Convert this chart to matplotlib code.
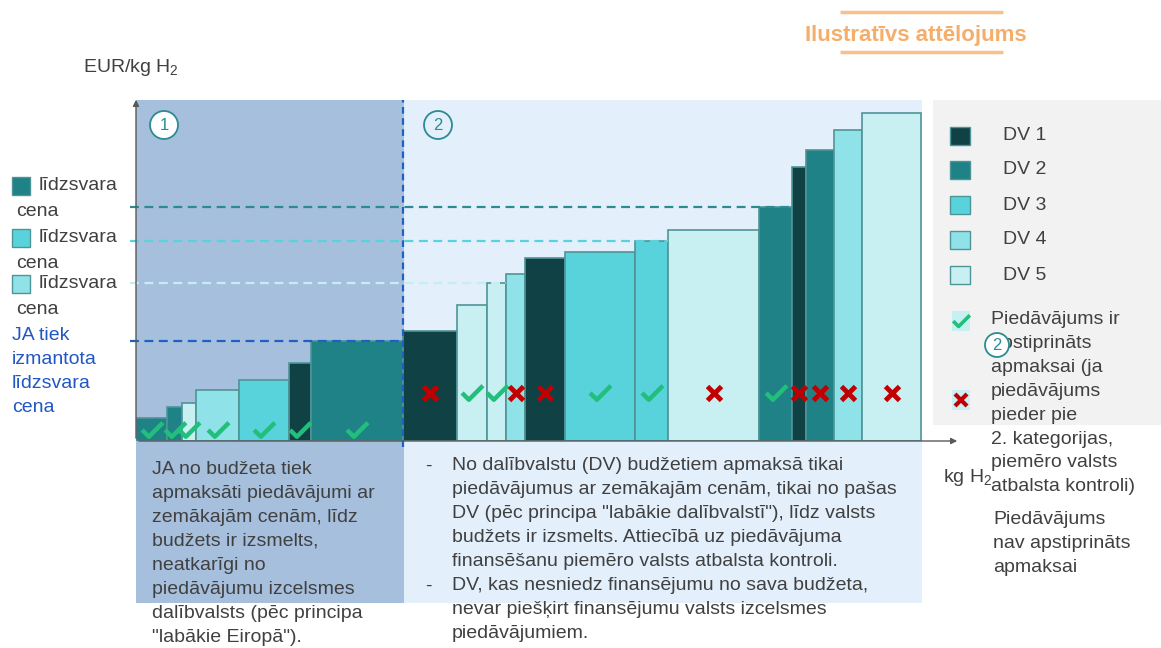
import matplotlib
matplotlib.use("Agg")
import matplotlib.pyplot as plt
from matplotlib.patches import Rectangle, Circle
from matplotlib.path import Path
import numpy as np

plt.rcParams['font.family'] = ['Liberation Sans', 'DejaVu Sans']
plt.rcParams['mathtext.fontset'] = 'custom'
plt.rcParams['mathtext.rm'] = 'Liberation Sans'
plt.rcParams['mathtext.default'] = 'regular'

# offers, sorted by price (illustrative units)
widths = [3.1, 1.5, 1.4, 4.3, 5.0, 2.2, 9.2, 5.4, 3.0, 1.9, 1.9, 4.0, 7.0, 3.3, 9.1, 3.3, 1.4, 2.8, 2.8, 5.9]
prices = [2.3, 3.4, 3.8, 5.1, 6.1, 7.8, 10.0, 11.0, 13.6, 15.8, 16.7, 18.3, 18.9, 20.0, 21.1, 23.4, 27.4, 29.1, 31.1, 32.8]
member = [2, 2, 5, 4, 3, 1, 2, 1, 5, 5, 4, 1, 3, 3, 5, 2, 1, 2, 4, 5]
approved = [1, 1, 1, 1, 1, 1, 1, 0, 1, 1, 0, 0, 1, 1, 0, 1, 0, 0, 0, 0]
phase = [1, 1, 1, 1, 1, 1, 1, 2, 2, 2, 2, 2, 2, 2, 2, 2, 2, 2, 2, 2]
# bar that sets each clearing price: DV2, DV3, DV4, JA
clearing_bar = [15, 13, 9, 6]

dv_labels = ['DV 1', 'DV 2', 'DV 3', 'DV 4', 'DV 5']
dv_colors = ['#0f4145', '#1e8286', '#59d3db', '#8fe2e8', '#c8eff1']
line_colors = ['#2a8c90', '#59d3db', '#c4eef1', '#2060c0']
edge = '#4f9497'
txt = '#404040'
green = '#22bf7c'
red = '#c00000'

left_text = ['JA no budžeta tiek', 'apmaksāti piedāvājumi ar', 'zemākajām cenām, līdz',
             'budžets ir izsmelts,', 'neatkarīgi no', 'piedāvājumu izcelsmes',
             'dalībvalsts (pēc principa', '"labākie Eiropā").']
right_text = ['No dalībvalstu (DV) budžetiem apmaksā tikai',
              'piedāvājumus ar zemākajām cenām, tikai no pašas',
              'DV (pēc principa "labākie dalībvalstī"), līdz valsts',
              'budžets ir izsmelts. Attiecībā uz piedāvājuma',
              'finansēšanu piemēro valsts atbalsta kontroli.',
              'DV, kas nesniedz finansējumu no sava budžeta,',
              'nevar piešķirt finansējumu valsts izcelsmes',
              'piedāvājumiem.']
ok_text = ['Piedāvājums ir', 'apstiprināts', 'apmaksai (ja', 'piedāvājums',
           'pieder pie', '2. kategorijas,', 'piemēro valsts', 'atbalsta kontroli)']
no_text = ['Piedāvājums', 'nav apstiprināts', 'apmaksai']

W, H = 1161, 648
fig = plt.figure(figsize=(W / 100, H / 100), dpi=100)

# pixel-space layer for panels and text
bg = fig.add_axes([0, 0, 1, 1], zorder=0)
bg.set_xlim(0, W)
bg.set_ylim(H, 0)
bg.axis('off')


def lines(x, y0, step, items, **kw):
    for i, s in enumerate(items):
        bg.text(x, y0 + i * step, s, va='center', ha='left', **kw)


bg.add_patch(Rectangle((136, 100), 268, 503, color='#a6bfdd', lw=0))
bg.add_patch(Rectangle((404, 100), 518, 503, color='#e4effc', lw=0))
bg.add_patch(Rectangle((933, 100), 228, 325, color='#f2f2f2', lw=0))

# title
bg.text(916, 35, 'Ilustratīvs attēlojums', ha='center', va='center',
        fontsize=16, fontweight='bold', color='#f5ad6a')
for yy in (12, 52):
    bg.plot([840, 1003], [yy, yy], color='#f8c08c', lw=2.5, solid_capstyle='butt')

bg.text(83, 68, 'EUR/kg H$_2$', fontsize=14, color=txt, va='center')
bg.text(943, 477, 'kg H$_2$', fontsize=14, color=txt, va='center')

# left clearing price legend
for k, yc in enumerate([186, 238, 284]):
    bg.add_patch(Rectangle((12, yc - 9), 18, 18, facecolor=dv_colors[k + 1], edgecolor=edge, lw=1))
    bg.text(39, yc, 'līdzsvara', fontsize=14, color=txt, va='center')
    bg.text(16, yc + 25, 'cena', fontsize=14, color=txt, va='center')
lines(12, 335, 24, ['JA tiek', 'izmantota', 'līdzsvara', 'cena'], fontsize=14, color='#2157c3')

# circled step numbers
for (cx, cy, r, n, fc) in [(164, 125, 14, '1', 'white'), (438, 125, 14, '2', '#e4effc'),
                          (997, 345, 12, '2', 'white')]:
    bg.add_patch(Circle((cx, cy), r, facecolor=fc, edgecolor='#2a8c90', lw=1.3, zorder=5))
    bg.text(cx, cy + 1, n, ha='center', va='center', fontsize=12, color='#2a8c90', zorder=6)

# bottom explanation texts
lines(152, 469, 24.1, left_text, fontsize=14, color=txt)
lines(452, 466, 24, right_text, fontsize=14, color=txt)
for i in (0, 5):
    bg.text(425, 466 + i * 24, '-', fontsize=14, color=txt, va='center')

# right legend
for k, lab in enumerate(dv_labels):
    yc = [136, 170, 205, 240, 275][k]
    bg.add_patch(Rectangle((950, yc - 9), 20, 18, facecolor=dv_colors[k], edgecolor=edge, lw=1))
    bg.text(1003, yc, lab, fontsize=14, color=txt, va='center')

check = Path([(-1.0, 0.05), (-0.35, -0.6), (1.0, 0.75)], [Path.MOVETO, Path.LINETO, Path.LINETO])

bg.add_patch(Rectangle((952, 311), 18, 20, color='#c8eff1', lw=0))
bg.plot([961], [321], ls='none', marker=check, ms=12, mew=2.6, mec=green, mfc='none')
bg.add_patch(Rectangle((952, 390), 18, 20, color='#c8eff1', lw=0))
bg.plot([961], [400], ls='none', marker='x', ms=8, mew=3, color=red)
lines(991, 320, 23.8, ok_text, fontsize=14, color=txt, zorder=2)
lines(993, 520, 23.5, no_text, fontsize=14, color=txt)

# data layer: 1 unit = 10 px, origin at (136, 441)
ax = fig.add_axes([136 / W, (H - 441) / H, (960 - 136) / W, (441 - 97) / H], zorder=1)
ax.patch.set_visible(False)
ax.set_xlim(0, 82.4)
ax.set_ylim(0, 34.4)
for s in ax.spines.values():
    s.set_visible(False)
ax.set_xticks([])
ax.set_yticks([])

w = np.array(widths)
p = np.array(prices)
lefts = np.concatenate([[0], np.cumsum(w)[:-1]])
rights = lefts + w
cols = [dv_colors[m - 1] for m in member]
ax.bar(lefts, p, width=w, align='edge', color=cols, edgecolor=edge, linewidth=1.2, zorder=2)

# clearing price lines
for idx, c in zip(clearing_bar, line_colors):
    ax.plot([-0.6, rights[idx]], [p[idx], p[idx]], color=c, lw=1.6,
            dashes=(4, 2.5), clip_on=False, zorder=3)
split = rights[phase.index(1) + phase.count(1) - 1]
ax.plot([split, split], [-0.6, 34.1], color='#2060c0', lw=1.6, dashes=(3, 2),
        clip_on=False, zorder=3)

# approval marks
centers = lefts + w / 2
mark_y = np.where(np.array(phase) == 1, 1.1, 4.8)
ok = np.array(approved) == 1
ax.plot(centers[ok], mark_y[ok], ls='none', marker=check, ms=15, mew=3.2,
        mec=green, mfc='none', zorder=4, clip_on=False)
ax.plot(centers[~ok], mark_y[~ok], ls='none', marker='x', ms=10.5, mew=3.5,
        color=red, zorder=4, clip_on=False)

# axes arrows
ax.annotate('', xy=(0, 1), xytext=(0, 0), xycoords='axes fraction',
            arrowprops=dict(arrowstyle='-|>', color='#595959', lw=1, mutation_scale=9))
ax.annotate('', xy=(1, 0), xytext=(0, 0), xycoords='axes fraction',
            arrowprops=dict(arrowstyle='-|>', color='#595959', lw=1, mutation_scale=9))

fig.savefig('out.png', dpi=100)
